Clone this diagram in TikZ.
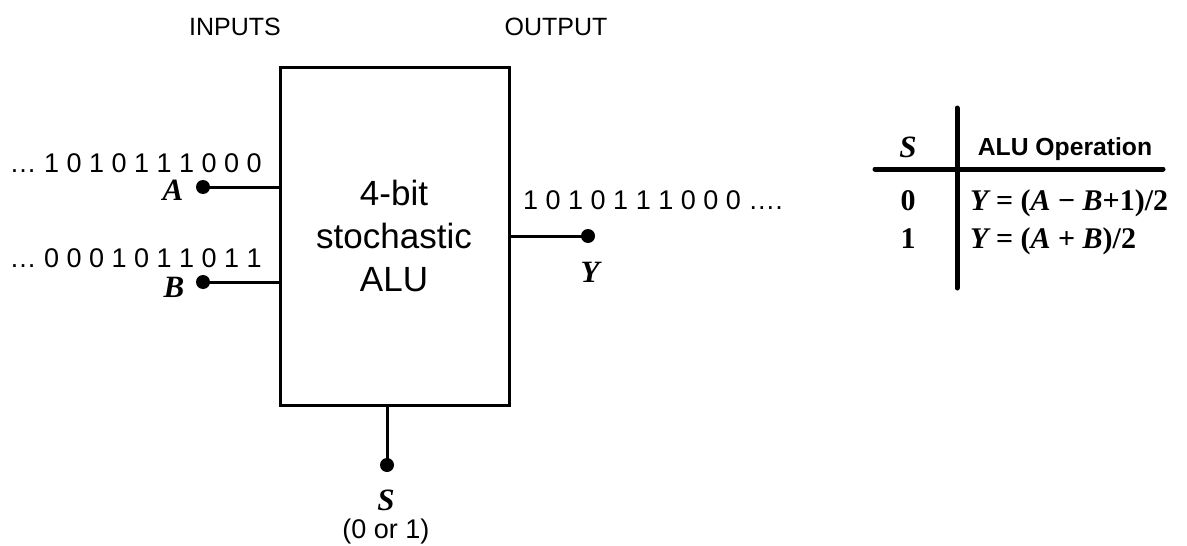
\documentclass[tikz,border=0pt]{standalone}
\usepackage{fontspec}
\setmainfont{Liberation Sans}
\newfontfamily\tms{Liberation Serif}
\newcommand{\bi}[1]{{\tms\bfseries\itshape #1}}
\begin{document}
\begin{tikzpicture}[x=1pt,y=-1pt,
  wire/.style={line width=3pt},
  dotnode/.style={circle,fill=black,inner sep=0pt,minimum size=14pt},
  lbl/.style={inner sep=0pt,font=\fontsize{27}{30}\selectfont},
  ital/.style={inner sep=0pt,font=\fontsize{31}{34}\selectfont},
  tline/.style={line width=5pt,line cap=round}]
\useasboundingbox (0,0) rectangle (1187,546);
% headers
\node[lbl,anchor=base,font=\fontsize{25}{28}\selectfont] (inputs) at (235,35) {INPUTS};
\node[lbl,anchor=base,font=\fontsize{25}{28}\selectfont] (output) at (556,35) {OUTPUT};
% ALU box
\node[draw,line width=3pt,minimum width=229pt,minimum height=338pt,inner sep=0pt] (alu) at (394.5,236) {};
\node[lbl,anchor=base,font=\fontsize{35}{40}\selectfont] (t1) at (394,205) {4-bit};
\node[lbl,anchor=base,font=\fontsize{35}{40}\selectfont] (t2) at (394,248) {stochastic};
\node[lbl,anchor=base,font=\fontsize{35}{40}\selectfont] (t3) at (394,291) {ALU};
% input A
\node[dotnode] (adot) at (203,187) {};
\draw[wire] (adot.center) -- (adot.center -| alu.west);
\node[lbl,anchor=base east] (aseq) at (262,172) {… 1 0 1 0 1 1 1 0 0 0};
\node[ital,anchor=base] (alab) at (173,200) {\bi{A}};
% input B
\node[dotnode] (bdot) at (203,282) {};
\draw[wire] (bdot.center) -- (bdot.center -| alu.west);
\node[lbl,anchor=base east] (bseq) at (262,267) {… 0 0 0 1 0 1 1 0 1 1};
\node[ital,anchor=base] (blab) at (174,297) {\bi{B}};
% output Y
\node[dotnode] (ydot) at (588,236) {};
\draw[wire] (ydot.center) -- (ydot.center -| alu.east);
\node[lbl,anchor=base west] (yseq) at (523,209) {1 0 1 0 1 1 1 0 0 0 ….};
\node[ital,anchor=base] (ylab) at (590,282) {\bi{Y}};
% select S
\node[dotnode] (sdot) at (387,465) {};
\draw[wire] (sdot.center) -- (sdot.center |- alu.south);
\node[ital,anchor=base] (slab) at (386,510) {\bi{S}};
\node[lbl,anchor=base] (srange) at (386,538) {(0 or 1)};
% table
\coordinate (vt) at (957,108);
\coordinate (vb) at (957,288);
\coordinate (hl) at (875,169);
\coordinate (hr) at (1163,169);
\draw[tline] (vt) -- (vb);
\draw[tline] (hl) -- (hr);
\node[ital,anchor=base] (sh) at (908,157) {\bi{S}};
\node[lbl,anchor=base,font=\fontsize{24.7}{28}\selectfont\bfseries] (oph) at (1065,155) {ALU Operation};
\node[lbl,anchor=base,font=\fontsize{30}{34}\selectfont\tms\bfseries] (r0s) at (908,210) {0};
\node[lbl,anchor=base,font=\fontsize{30}{34}\selectfont\tms\bfseries] (r1s) at (908,248) {1};
\node[lbl,anchor=base west,font=\fontsize{30}{34}\selectfont\tms\bfseries] (r0f) at (970,210) {\bi{Y} = (\bi{A} − \bi{B}+1)/2};
\node[lbl,anchor=base west,font=\fontsize{30}{34}\selectfont\tms\bfseries] (r1f) at (970,248) {\bi{Y} = (\bi{A} + \bi{B})/2};
\end{tikzpicture}
\end{document}
